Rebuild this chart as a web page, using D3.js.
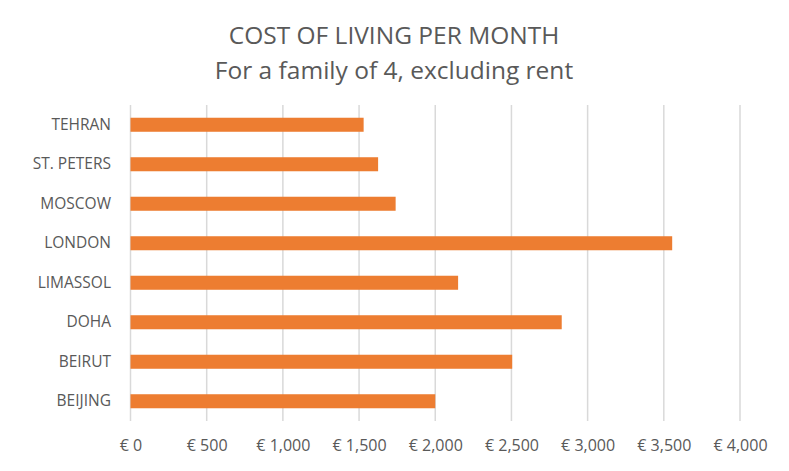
<!DOCTYPE html>
<html>
<head>
<meta charset="utf-8">
<script src="https://cdn.jsdelivr.net/npm/d3@7"></script>
<style>
  body { margin: 0; background: #fff; }
  text { font-family: "Open Sans", "Noto Sans", sans-serif; fill: #595959; }
</style>
</head>
<body>
<div id="chart"></div>
<script>
// DATA
const cities = ["TEHRAN", "ST. PETERS", "MOSCOW", "LONDON", "LIMASSOL", "DOHA", "BEIRUT", "BEIJING"];
const costs = [1530, 1625, 1740, 3555, 2150, 2830, 2505, 2000];
const xTicks = [0, 500, 1000, 1500, 2000, 2500, 3000, 3500, 4000];

const width = 789, height = 471;
const margin = {top: 105, right: 49, bottom: 50, left: 130.5};

const svg = d3.select("#chart").append("svg")
    .attr("width", width)
    .attr("height", height);

// SCALES
const xScale = d3.scaleLinear()
    .domain([0, 4000])
    .range([margin.left, width - margin.right]);

const yScale = d3.scaleBand()
    .domain(cities)
    .range([margin.top, height - margin.bottom])
    .paddingInner(0.645)
    .paddingOuter(0.3225);

// GRIDLINES
svg.append("g")
    .selectAll("line")
    .data(xTicks)
    .join("line")
    .attr("x1", d => xScale(d))
    .attr("x2", d => xScale(d))
    .attr("y1", margin.top)
    .attr("y2", height - margin.bottom)
    .attr("stroke", "#d9d9d9")
    .attr("stroke-width", 1.5);

// BARS
svg.append("g")
    .selectAll("rect")
    .data(cities)
    .join("rect")
    .attr("x", xScale(0))
    .attr("y", d => yScale(d))
    .attr("width", (d, i) => xScale(costs[i]) - xScale(0))
    .attr("height", yScale.bandwidth())
    .attr("fill", "#ed7d31");

// AXES
const fmt = d3.format(",");
const xAxis = d3.axisBottom(xScale)
    .tickValues(xTicks)
    .tickSize(0)
    .tickPadding(19)
    .tickFormat(d => "€ " + fmt(d));

svg.append("g")
    .attr("transform", `translate(0, ${height - margin.bottom})`)
    .call(xAxis)
    .call(g => g.select(".domain").remove())
    .selectAll("text")
    .style("font-size", "16px")
    .style("fill", "#595959");

const yAxis = d3.axisLeft(yScale).tickSize(0).tickPadding(19.5);
svg.append("g")
    .attr("transform", `translate(${margin.left}, 0)`)
    .call(yAxis)
    .call(g => g.select(".domain").remove())
    .selectAll("text")
    .style("font-size", "15.5px")
    .style("fill", "#595959");

// TITLE
svg.append("text")
    .attr("x", 394)
    .attr("y", 43.5)
    .attr("text-anchor", "middle")
    .style("font-size", "24.5px")
    .text("COST OF LIVING PER MONTH");

svg.append("text")
    .attr("x", 394)
    .attr("y", 78.5)
    .attr("text-anchor", "middle")
    .style("font-size", "24.5px")
    .text("For a family of 4, excluding rent");
</script>
</body>
</html>
